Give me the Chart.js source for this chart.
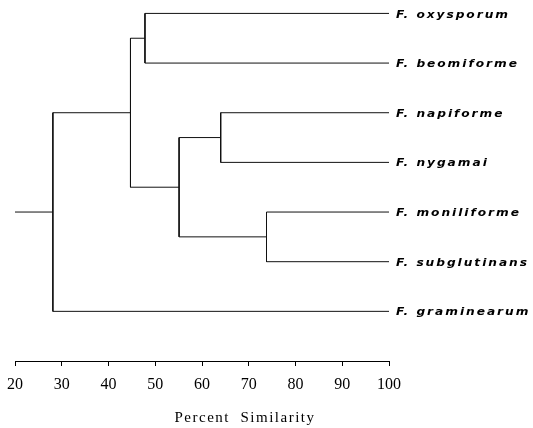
<!DOCTYPE html>
<html>
<head>
<meta charset="utf-8">
<script src="https://cdn.jsdelivr.net/npm/chart.js@4/dist/chart.umd.min.js"></script>
<style>
  html, body { margin: 0; padding: 0; background: #fff; }
  #wrap { width: 533px; height: 428px; }
</style>
</head>
<body>
<div id="wrap"><canvas id="c" width="533" height="428"></canvas></div>
<script>
// Leaves (top to bottom)
const leaves = ['F. oxysporum', 'F. beomiforme', 'F. napiforme', 'F. nygamai',
                'F. moniliforme', 'F. subglutinans', 'F. graminearum'];
// Merges: node ids 0..6 are leaves, merge k becomes node 7+k
const mergeA   = [0, 2, 4, 8, 7, 11];
const mergeB   = [1, 3, 5, 9, 10, 6];
const mergeSim = [47.8, 64.0, 73.8, 55.1, 44.7, 28.1];
const leafSim = 100;
const rootStart = 20;
const xTicks = [20, 30, 40, 50, 60, 70, 80, 90, 100];
const axisTitle = 'Percent  Similarity';

// Build node positions (x = similarity, y = leaf order)
const nodes = leaves.map((_, i) => ({ x: leafSim, y: i }));
const datasets = [];
mergeA.forEach((a, k) => {
  const b = mergeB[k], s = mergeSim[k];
  const A = nodes[a], B = nodes[b];
  datasets.push({
    data: [{x: A.x, y: A.y}, {x: s, y: A.y}, {x: s, y: B.y}, {x: B.x, y: B.y}]
  });
  nodes.push({ x: s, y: (A.y + B.y) / 2 });
});
const root = nodes[nodes.length - 1];
datasets.push({ data: [{x: rootStart, y: root.y}, {x: root.x, y: root.y}] });
datasets.forEach(d => Object.assign(d, {
  showLine: true, borderColor: '#111', borderWidth: 1, pointRadius: 0,
  fill: false, tension: 0
}));

const labelPlugin = {
  id: 'labels',
  afterDraw(chart) {
    const ctx = chart.ctx, ys = chart.scales.y, xs = chart.scales.x;
    const sx = 1.22;
    ctx.save();
    ctx.fillStyle = '#000';
    ctx.font = 'italic bold 10px "DejaVu Sans"';
    ctx.textAlign = 'left';
    ctx.textBaseline = 'middle';
    ctx.letterSpacing = '1.6px';
    leaves.forEach((name, i) => {
      ctx.save();
      ctx.translate(chart.chartArea.right + 7, ys.getPixelForValue(i) + 1.5);
      ctx.scale(sx, 1);
      ctx.fillText(name, 0, 0);
      ctx.restore();
    });
    ctx.font = '15px "Liberation Serif"';
    ctx.letterSpacing = '1.5px';
    ctx.textAlign = 'center';
    ctx.textBaseline = 'alphabetic';
    ctx.fillText(axisTitle, xs.getPixelForValue(69.2), 421.5);
    ctx.restore();
  }
};

new Chart(document.getElementById('c'), {
  type: 'scatter',
  data: { datasets },
  options: {
    responsive: false,
    animation: false,
    layout: { padding: { left: 15, right: 144, top: 0, bottom: 0 } },
    plugins: { legend: { display: false }, tooltip: { enabled: false }, title: { display: false } },
    scales: {
      x: {
        type: 'linear', min: 20, max: 100,
        afterBuildTicks(scale) { scale.ticks = xTicks.map(v => ({ value: v })); },
        afterFit(scale) { scale.height = 67; scale.paddingLeft = 0; scale.paddingRight = 0; },
        ticks: { color: '#000', font: { family: '"Liberation Serif"', size: 16 }, padding: 9, maxRotation: 0,
                 callback: v => String(v) },
        grid: { drawOnChartArea: false, drawTicks: true, tickLength: 5, color: '#000' },
        border: { display: true, color: '#000', width: 1 }
      },
      y: { type: 'linear', display: false, reverse: true, min: -0.27, max: 7 }
    }
  },
  plugins: [labelPlugin]
});
</script>
</body>
</html>
